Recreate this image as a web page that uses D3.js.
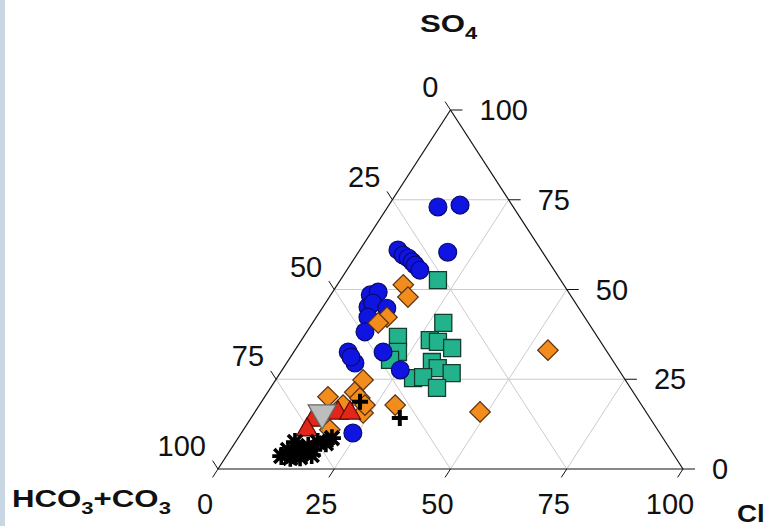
<!DOCTYPE html>
<html>
<head>
<meta charset="utf-8">
<script src="https://cdn.jsdelivr.net/npm/d3@7"></script>
<style>
  body { margin: 0; background: #fff; }
  svg { display: block; font-family: "Liberation Sans", Arial, sans-serif; }
</style>
</head>
<body>
<div id="chart"></div>
<script>
// ternary data, each point is [Cl %, SO4 %], HCO3+CO3 = 100 - Cl - SO4
const circles = [
    [10.8, 73.0], [15.3, 73.5], [19.2, 60.4], [8.2, 61.0], [10.0, 59.6],
    [11.5, 58.8], [12.9, 57.7], [14.0, 56.8], [15.7, 55.4], [8.5, 48.5],
    [9.8, 49.3], [9.7, 45.1], [10.2, 46.2], [13.9, 44.8], [11.1, 42.3],
    [12.5, 38.2], [11.7, 32.6], [14.7, 29.5], [13.0, 31.2], [19.2, 32.6],
    [25.4, 27.6], [24.0, 10.0]
];
const squares = [
    [21.0, 52.6], [28.1, 40.7], [20.3, 36.8], [22.4, 32.6], [21.8, 30.4],
    [27.6, 35.9], [29.6, 35.4], [33.5, 33.7], [31.1, 29.8], [33.2, 28.1],
    [36.9, 26.7], [29.3, 25.3], [31.3, 25.6], [35.8, 22.6]
];
const diamonds = [
    [54.4, 33.1], [48.4, 15.9], [14.2, 51.3], [16.9, 47.9], [15.2, 42.3],
    [14.1, 40.7], [18.8, 24.8], [18.7, 21.4], [13.6, 20.1], [29.2, 17.8],
    [20.6, 19.8], [23.4, 15.6], [18.6, 10.9], [18.0, 17.8], [22.7, 17.8]
];
const triangles = [
    [13.6, 13.6], [13.7, 10.9], [18.0, 15.6], [20.6, 15.6]
];
const downTriangles = [
    [14.6, 15.6]
];
const pluses = [
    [21.2, 18.7], [32.0, 14.2]
];
const stars = [
    [12.4, 5.3], [14.2, 3.9], [14.3, 5.8], [15.9, 4.7], [16.2, 6.4],
    [17.8, 5.3], [17.7, 7.5], [19.6, 7.2], [14.0, 3.1], [16.0, 3.3],
    [20.2, 8.6], [12.8, 7.5], [11.8, 3.6], [18.2, 3.9]
];
const ticks = [0, 25, 50, 75, 100];
const gridValues = [25, 50, 75];

const width = 768, height = 526;
const plotLeft = 218, plotBottom = 469, side = 465, plotTop = 110;

const svg = d3.select("#chart")
    .append("svg")
    .attr("width", width)
    .attr("height", height);

// window frame stripe on the left
svg.append("rect")
    .attr("x", 0).attr("y", 0)
    .attr("width", 5).attr("height", height)
    .attr("fill", "#c9d6e3");

// scales: Cl moves along the base, SO4 moves up and shifts right by half
const xCl = d3.scaleLinear().domain([0, 100]).range([0, side]);
const xSo4 = d3.scaleLinear().domain([0, 100]).range([0, side / 2]);
const ySo4 = d3.scaleLinear().domain([0, 100]).range([plotBottom, plotTop]);

function project(cl, so4) {
    return [plotLeft + xCl(cl) + xSo4(so4), ySo4(so4)];
}

const g = svg.append("g");

function line(a, b, color, w) {
    g.append("line")
        .attr("x1", a[0]).attr("y1", a[1])
        .attr("x2", b[0]).attr("y2", b[1])
        .attr("stroke", color)
        .attr("stroke-width", w);
}

// grid
gridValues.forEach(v => {
    line(project(0, v), project(100 - v, v), "#cbcbcb", 1);       // SO4
    line(project(v, 0), project(v, 100 - v), "#cbcbcb", 1);       // Cl
    line(project(0, 100 - v), project(100 - v, 0), "#cbcbcb", 1); // HCO3
});

// outline
const A = project(0, 100), B = project(0, 0), C = project(100, 0);
line(B, C, "#111", 1.2);
line(B, A, "#111", 1.2);
line(A, C, "#111", 1.2);

const dx = side / 2, dy = plotBottom - plotTop, len = Math.hypot(dx, dy);
const ux = dx / len * 10, uy = dy / len * 10;

function num(x, y, v, anchor, shift) {
    g.append("text")
        .attr("x", x).attr("y", y)
        .attr("dy", shift || 0)
        .attr("text-anchor", anchor)
        .attr("font-size", 29)
        .attr("fill", "#111")
        .text(v);
}

// ticks and labels
ticks.forEach(v => {
    // Cl along the base
    let p = project(v, 0);
    line(p, [p[0] - ux, p[1] + uy], "#111", 1);
    num(p[0] - 13, 514, v, "middle");

    // SO4 on the right edge
    p = project(100 - v, v);
    line(p, [p[0] + 12, p[1]], "#111", 1);
    num(p[0] + 29, p[1], v, "start", "0.35em");

    // HCO3+CO3 on the left edge
    p = project(0, 100 - v);
    line(p, [p[0] - ux, p[1] - uy], "#111", 1);
    num(p[0] - 12, p[1] - 13, v, "end");
});

// axis titles, parts are [text, dy, size]; the original lettering is wide
function title(x, y, sx, parts) {
    const t = svg.append("text")
        .attr("transform", `translate(${x},${y}) scale(${sx},1)`)
        .attr("font-weight", "bold")
        .attr("fill", "#111");
    parts.forEach(([s, shift, size]) => {
        t.append("tspan")
            .attr("font-size", size)
            .attr("dy", shift)
            .text(s);
    });
}
title(420, 32, 1.3, [["SO", 0, 24], ["4", 7, 17]]);
title(12, 507, 1.3, [["HCO", 0, 24], ["3", 7, 17], ["+CO", -7, 24], ["3", 7, 17]]);
title(737, 522, 1.15, [["Cl", 0, 24]]);

// markers
function plot(data, symbol, size, fill, stroke, sw, rotate) {
    g.append("g")
        .selectAll("path")
        .data(data)
        .join("path")
        .attr("transform", d => {
            const p = project(d[0], d[1]);
            return `translate(${p[0]},${p[1]})` + (rotate ? ` rotate(${rotate})` : "");
        })
        .attr("d", d3.symbol(symbol, size))
        .attr("fill", fill)
        .attr("stroke", stroke)
        .attr("stroke-width", sw);
}

plot(squares, d3.symbolSquare, 290, "#22b38c", "#173b2c", 1.3);
plot(circles, d3.symbolCircle, 250, "#0f14e0", "#0a0a70", 1.2);
plot(diamonds, d3.symbolSquare, 210, "#f28c1c", "#5a3010", 1.2, 45);
plot(triangles, d3.symbolTriangle, 190, "#e3261a", "#5a0a05", 1.2);
plot(downTriangles, d3.symbolTriangle, 340, "#bdbdbd", "#666", 1.2, 180);

// thick plus and asterisk as stroked paths
g.append("g").selectAll("path")
    .data(pluses)
    .join("path")
    .attr("transform", d => `translate(${project(d[0], d[1])})`)
    .attr("d", "M-8,0H8M0,-8V8")
    .attr("stroke", "#000")
    .attr("stroke-width", 4);

g.append("g").selectAll("path")
    .data(stars)
    .join("path")
    .attr("transform", d => `translate(${project(d[0], d[1])})`)
    .attr("d", "M-9,0H9M0,-9V9M-7,-7L7,7M-7,7L7,-7")
    .attr("stroke", "#000")
    .attr("stroke-width", 3.6);
</script>
</body>
</html>
